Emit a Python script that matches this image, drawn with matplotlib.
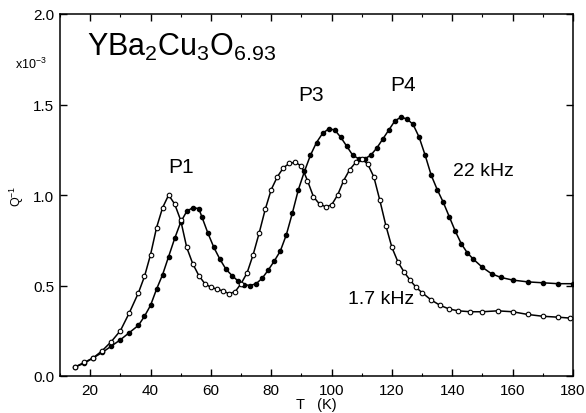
import matplotlib
matplotlib.use("Agg")
import matplotlib.pyplot as plt
from matplotlib.ticker import MultipleLocator

plt.rcParams['font.family'] = ['Liberation Sans', 'DejaVu Sans']
plt.rcParams['mathtext.fontset'] = 'custom'
plt.rcParams['mathtext.rm'] = 'Liberation Sans'
plt.rcParams['mathtext.it'] = 'Liberation Sans'
plt.rcParams['mathtext.default'] = 'regular'

# 1.7 kHz (open circles)
T_17 = [15, 18, 21, 24, 27, 30, 33, 36, 38, 40, 42, 44, 46, 48, 50, 52, 54, 56,
        58, 60, 62, 64, 66, 68, 70, 72, 74, 76, 78, 80, 82, 84, 86, 88, 90, 92,
        94, 96, 98, 100, 102, 104, 106, 108, 110, 112, 114, 116, 118, 120, 122,
        124, 126, 128, 130, 133, 136, 139, 142, 146, 150, 155, 160, 165, 170,
        175, 179]
Q_17 = [0.05, 0.075, 0.10, 0.14, 0.19, 0.25, 0.35, 0.46, 0.55, 0.67, 0.82, 0.93,
        1.00, 0.95, 0.86, 0.71, 0.62, 0.555, 0.51, 0.49, 0.48, 0.47, 0.455,
        0.465, 0.51, 0.57, 0.67, 0.79, 0.92, 1.03, 1.10, 1.15, 1.175, 1.18,
        1.16, 1.08, 0.99, 0.95, 0.935, 0.945, 1.00, 1.08, 1.14, 1.18, 1.20,
        1.17, 1.10, 0.97, 0.83, 0.71, 0.63, 0.575, 0.53, 0.49, 0.46, 0.42,
        0.39, 0.37, 0.36, 0.355, 0.355, 0.36, 0.355, 0.34, 0.33, 0.325, 0.32]

# 22 kHz (filled circles)
T_22 = [15, 18, 21, 24, 27, 30, 33, 36, 38, 40, 42, 44, 46, 48, 50, 52, 54, 56,
        57, 59, 61, 63, 65, 67, 69, 71, 73, 75, 77, 79, 81, 83, 85, 87, 89, 91,
        93, 95, 97, 99, 101, 103, 105, 107, 109, 111, 113, 115, 117, 119, 121,
        123, 125, 127, 129, 131, 133, 135, 137, 139, 141, 143, 145, 147, 150,
        153, 156, 160, 165, 170, 175, 180]
Q_22 = [0.05, 0.07, 0.10, 0.13, 0.165, 0.20, 0.24, 0.28, 0.33, 0.39, 0.48, 0.56,
        0.66, 0.76, 0.85, 0.91, 0.93, 0.925, 0.88, 0.79, 0.71, 0.645, 0.59,
        0.555, 0.525, 0.505, 0.50, 0.51, 0.54, 0.585, 0.635, 0.69, 0.78, 0.90,
        1.03, 1.13, 1.22, 1.29, 1.34, 1.365, 1.36, 1.32, 1.27, 1.22, 1.20, 1.20,
        1.22, 1.26, 1.31, 1.36, 1.41, 1.43, 1.42, 1.39, 1.32, 1.22, 1.11, 1.03,
        0.96, 0.88, 0.80, 0.73, 0.68, 0.645, 0.60, 0.565, 0.545, 0.53, 0.52,
        0.515, 0.51, 0.51]

x_ticks = [20, 40, 60, 80, 100, 120, 140, 160, 180]
y_ticks = [0.0, 0.5, 1.0, 1.5, 2.0]

fig = plt.figure(figsize=(5.86, 4.14), dpi=100)
ax = fig.add_axes([60/586, 1 - 377/414, (573 - 60)/586, (377 - 15)/414])

ax.plot(T_22, Q_22, '-', color='black', lw=1.1, zorder=2)
ax.plot(T_22, Q_22, 'o', color='black', ms=3.0, zorder=3)
ax.plot(T_17, Q_17, '-', color='black', lw=1.1, zorder=2)
ax.plot(T_17, Q_17, 'o', mfc='white', mec='black', mew=0.8, ms=3.3, zorder=4)

ax.set_xlim(10, 180)
ax.set_ylim(0, 2.0)
ax.set_xticks(x_ticks)
ax.set_yticks(y_ticks)
ax.set_yticklabels([f"{v:.1f}" for v in y_ticks])
ax.xaxis.set_minor_locator(MultipleLocator(10))
ax.tick_params(which='major', direction='in', length=5, width=1, labelsize=11,
               top=True, right=True)
ax.tick_params(axis='x', which='major', pad=5)
ax.tick_params(axis='y', which='major', pad=4)
ax.tick_params(which='minor', direction='in', length=2.5, width=0.8, top=True)
for s in ax.spines.values():
    s.set_linewidth(1.1)

ax.text(19, 1.82, r'YBa$_2$Cu$_3$O$_{6.93}$', fontsize=22, ha='left', va='center')
ax.text(50, 1.16, 'P1', fontsize=15, ha='center', va='center')
ax.text(93.3, 1.555, 'P3', fontsize=15, ha='center', va='center')
ax.text(123.6, 1.61, 'P4', fontsize=15, ha='center', va='center')
ax.text(150.2, 1.134, '22 kHz', fontsize=14, ha='center', va='center')
ax.text(116.3, 0.43, '1.7 kHz', fontsize=14, ha='center', va='center')

fig.text(31/586, 1 - 64/414, r'x10$^{-3}$', fontsize=9, ha='center', va='center')
fig.text(17/586, 1 - 196/414, r'Q$^{-1}$', fontsize=9, ha='center', va='center',
         rotation=90)
fig.text(316/586, 1 - 405/414, 'T   (K)', fontsize=10.5, ha='center', va='center')

fig.savefig('out.png', dpi=100)
